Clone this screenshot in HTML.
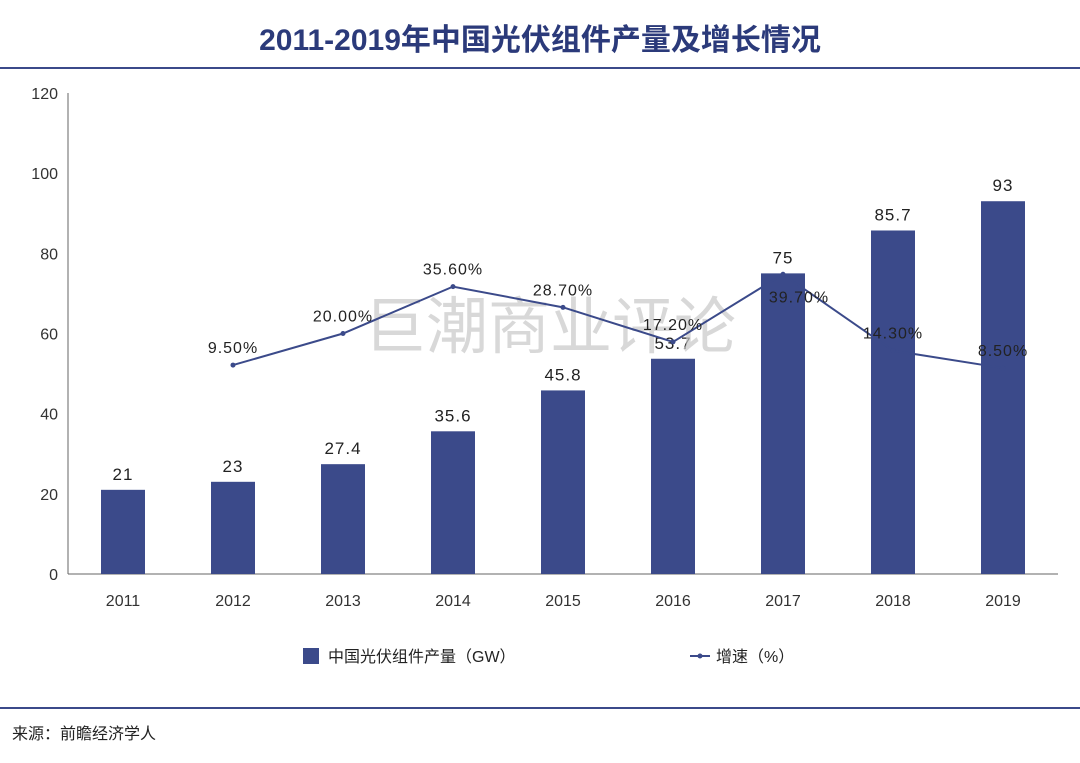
<!DOCTYPE html>
<html><head><meta charset="utf-8"><style>
body{margin:0;background:#fff;width:1080px;height:758px;overflow:hidden;font-family:"Liberation Sans","Noto Sans CJK SC",sans-serif;}
svg text{font-family:"Liberation Sans","Noto Sans CJK SC",sans-serif;}
</style></head><body>
<svg id="c" width="1080" height="758">
<text x="540" y="50" text-anchor="middle" font-size="30" font-weight="bold" fill="#2b3a7a">2011-2019年中国光伏组件产量及增长情况</text>
<line x1="0" y1="68" x2="1080" y2="68" stroke="#3b4a8a" stroke-width="2"/>
<g id="axes"></g><g id="bars"></g>
<text x="550" y="348" text-anchor="middle" font-size="62" fill="#c8c8c8" opacity="0.7">巨潮商业评论</text>
<g id="line"></g>
<rect x="303" y="648" width="16" height="16" fill="#3b4a8a"/>
<text x="328" y="662" font-size="16" fill="#222">中国光伏组件产量（GW）</text>
<line x1="690" y1="656" x2="710" y2="656" stroke="#3b4a8a" stroke-width="2"/>
<circle cx="700" cy="656" r="2.5" fill="#3b4a8a"/>
<text x="716" y="662" font-size="16" fill="#222">增速（%）</text>
<line x1="0" y1="708" x2="1080" y2="708" stroke="#3b4a8a" stroke-width="2"/>
<text x="12" y="739" font-size="16" fill="#222">来源：前瞻经济学人</text>
</svg>
<script>
const categories=["2011","2012","2013","2014","2015","2016","2017","2018","2019"];
const output=[21,23,27.4,35.6,45.8,53.7,75,85.7,93];
const growth=[null,9.5,20,35.6,28.7,17.2,39.7,14.3,8.5];
const growthLabels=["","9.50%","20.00%","35.60%","28.70%","17.20%","39.70%","14.30%","8.50%"];
const yTicks=[0,20,40,60,80,100,120];
const NS="http://www.w3.org/2000/svg";
const x0=68,x1=1058,yb=574,yt=93;
const y=v=>yb-(v/120)*(yb-yt);
const y2=v=>yb-((v+60)/160)*(yb-yt);
const step=(x1-x0)/categories.length;
const xc=i=>x0+step*(i+0.5);
function mk(tag,attrs,parent){const e=document.createElementNS(NS,tag);for(const k in attrs)e.setAttribute(k,attrs[k]);parent.appendChild(e);return e;}
const ax=document.getElementById('axes'),bg=document.getElementById('bars'),lg=document.getElementById('line');
let e=mk('line',{x1:x0,y1:yt,x2:x0,y2:yb,stroke:'#666'},ax);


e=mk('line',{x1:x0,y1:yb,x2:x1,y2:yb,stroke:'#666'},ax);


yTicks.forEach(t=>{const tx=mk('text',{x:58,y:y(t)+6,'text-anchor':'end','font-size':16,fill:'#333'},ax);tx.textContent=t;

});
categories.forEach((c,i)=>{
const tx=mk('text',{x:xc(i),y:606,'text-anchor':'middle','font-size':16,fill:'#333'},ax);tx.textContent=c;


const r=mk('rect',{x:xc(i)-22,y:y(output[i]),width:44,height:yb-y(output[i]),fill:'#3b4a8a'},bg);


const l=mk('text',{x:xc(i),y:y(output[i])-10,'text-anchor':'middle','font-size':17,fill:'#222','letter-spacing':'1'},bg);l.textContent=output[i];


});
let pts=[];growth.forEach((g,i)=>{if(g!==null)pts.push([xc(i),y2(g),i]);});
const pl=mk('polyline',{points:pts.map(p=>p[0]+','+p[1]).join(' '),fill:'none',stroke:'#3b4a8a','stroke-width':2},lg);


pts.forEach(p=>{const c=mk('circle',{cx:p[0],cy:p[1],r:2.5,fill:'#3b4a8a'},lg);


const below=growth[p[2]]===Math.max(...growth.filter(v=>v!==null));
const t=mk('text',{x:p[0]+(below?16:0),y:below?p[1]+28:p[1]-12,'text-anchor':'middle','font-size':16,fill:'#222','letter-spacing':'1'},lg);t.textContent=growthLabels[p[2]];

});
</script>
</body></html>
